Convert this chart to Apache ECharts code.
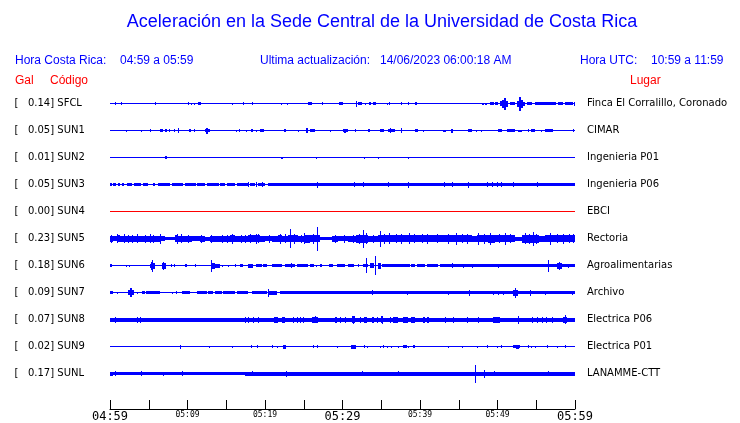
<!DOCTYPE html>
<html><head><meta charset="utf-8">
<script src="https://cdn.jsdelivr.net/npm/echarts@6/dist/echarts.min.js"></script>
<style>html,body{margin:0;padding:0;background:#fff}#c{width:740px;height:423px}</style>
</head><body><div id="c"></div>
<script>
// ---- data ----
const stations = ['SFCL','SUN1','SUN2','SUN3','SUN4','SUN5','SUN6','SUN7','SUN8','SUN9','SUNL'];
const galValues = ['0.14','0.05','0.01','0.05','0.00','0.23','0.18','0.09','0.07','0.02','0.17'];
const places = ['Finca El Corralillo, Coronado','CIMAR','Ingenieria P01','Ingenieria P06','EBCI','Rectoria','Agroalimentarias','Archivo','Electrica P06','Electrica P01','LANAMME-CTT'];
const deadStations = ['SUN4'];
const tickLabels = ['04:59','05:09','05:19','05:29','05:39','05:49','05:59'];
const majorTickLabels = ['04:59','05:29','05:59'];
// envelope segments per station: [start minute, end minute, half amplitude]
const ev_SFCL = [[0,60,0.5],[0.7,0.7,1.5],[1.4,1.4,1.5],[5.8,5.8,1.5],[10,10,1.5],[10.5,10.5,1],[10.9,10.9,1],[11.4,11.7,1.5],[15.8,15.8,1],[17.2,17.2,1.5],[18.3,18.3,1.5],[22,22,1],[22.8,22.8,1],[25.5,26.1,1.5],[27.4,27.4,1.5],[29.5,30.1,1.5],[31.8,31.8,3],[32,32.5,1.5],[32.9,32.9,1],[33.4,33.7,1.5],[33.9,34.3,1.5],[35.7,35.7,1],[36,36,1.5],[37.5,37.5,1.5],[38.4,38.6,1.5],[39.4,39.6,1.5],[48,48.3,1],[48.4,48.6,1],[49,49.5,1.5],[49.7,50.1,1.5],[50.3,50.6,2.5],[50.6,50.8,4],[50.8,51.1,6],[51.1,51.4,3],[51.6,52.3,1.5],[52.5,52.8,3],[52.8,53,7],[53,53.3,4],[53.3,53.5,2],[53.8,54.4,1.5],[54.8,55.3,1.5],[55.3,57.6,1.5],[57.8,58.5,1.5],[58.7,59.8,1.5],[59.9,59.9,2]];
const ev_SUN1 = [[0,60,0.5],[2,2,1],[4,4,1],[5.1,5.3,1.5],[6.4,6.8,1.5],[7.1,7.3,1.5],[7.65,7.65,1.5],[8.2,8.2,1.5],[8.8,8.9,2.5],[10.2,10.45,1.5],[10.9,10.9,1.5],[12.2,12.4,1.5],[12.4,12.7,3],[12.7,12.9,1.5],[16.3,16.3,1],[16.7,16.7,1.5],[17.6,17.6,1],[18.2,18.5,1.5],[18.8,18.8,1],[19.35,19.9,1.5],[22.45,22.7,1.5],[24.3,24.3,1],[25.3,25.5,2.5],[25.8,26.45,1.5],[28.4,28.4,1],[30,30.75,1.5],[30.2,30.4,2],[31.6,31.8,1.5],[33.3,33.6,1.5],[34.8,35.3,1.5],[35.9,36.8,1.5],[36.1,36.1,2.5],[37.55,37.55,2.5],[39.35,39.8,1.5],[40.4,40.4,1],[43,43.4,1],[44,44.3,2],[46.2,46.65,1.5],[47.2,47.2,1],[47.9,47.9,1],[50.1,50.6,1.5],[51.2,52.3,1.5],[52.7,53.1,1],[53.9,54.05,1.5],[54.3,54.8,1.5],[55.55,55.55,1],[56.1,57.1,1.5],[59.8,59.8,1.5]];
const ev_SUN2 = [[0,60,0.5],[7.1,7.35,1.5],[22,22.3,1],[26.6,26.75,1],[32.8,32.8,1],[34.6,34.6,1],[38.4,38.4,1]];
const ev_SUN3 = [[0,60,0.5],[0,0.3,1.5],[0.43,0.73,1.5],[1,1.3,1.5],[1.5,1.85,1.5],[2.15,2.9,1.5],[3.15,4,1.5],[4.2,4.85,1.5],[5.6,5.8,1.5],[6.15,7.75,1.5],[7.95,9.45,1.5],[9.7,11.05,1.5],[11.2,12.25,1.5],[12.5,14,1.5],[14.2,14.85,1.5],[15.05,16.1,1.5],[16.35,17.85,1.5],[18.05,18.7,1.5],[19.15,20,1.5],[20.4,60,1.5],[17.85,17.85,2.5],[18.9,18.9,2.5],[19.6,19.6,2.5],[26.65,26.65,3],[31.5,31.5,2.5],[32.7,32.7,2.5],[35.9,35.9,2.5],[38.4,38.4,3],[43.1,43.1,2.5],[44.1,44.1,2.5],[46.25,46.25,3],[48.7,48.7,2.5],[49.25,49.25,2.5],[49.9,49.9,2.5],[50.45,50.45,2.5],[52.05,52.05,2.5],[55.05,55.05,2.5]];
const ev_SUN4 = [[0,60,0.5]];
const ev_SUN5 = [[0,0.45,3],[0.1,0.1,4],[0.45,0.85,2.5],[0.85,1.3,3.5],[0.9,0.9,4.5],[1.3,1.95,3],[1.8,1.8,4.5],[1.95,2.6,3],[2.3,2.3,4],[2.6,3.2,3],[2.9,2.9,4],[3.2,3.9,3],[3.5,3.5,4.5],[3.9,5.2,3],[4.5,4.5,4],[5.1,5.1,4.5],[5.2,5.8,3],[5.5,5.5,4],[5.8,6.45,3],[6.45,6.45,5],[6.45,7.1,2.5],[7.1,8.4,1.5],[8.6,8.6,5],[8.4,8.8,3.5],[8.8,9.7,3],[9.2,9.2,4.5],[9.7,10.55,3],[10.1,10.1,4],[10.55,11.6,2.5],[11.8,11.8,4],[11.6,12.25,3],[12.25,12.9,2],[13,13,4],[12.9,13.55,3],[13.55,14.4,3],[14.4,14.4,4],[14.4,15.5,3],[15.1,15.1,4],[15.7,15.7,5],[15.5,16.1,3.5],[16.1,17.85,3],[16.9,16.9,4],[17.4,17.4,4],[18.1,18.1,4.5],[17.85,18.5,3.5],[18.8,18.8,5],[18.5,19.35,3.5],[19.1,19.1,4.5],[19.35,20,3],[20,20.85,2.5],[20.5,20.5,4],[20.85,21.7,3],[21.9,21.9,5],[21.7,22.15,3.5],[22.15,23,3],[22.6,22.6,4.5],[23.2,23.2,9.5],[23,24.2,3.5],[23.8,23.8,5],[24.2,25.2,3],[24.6,24.6,4],[25,25,5.5],[25.2,25.8,4],[25.8,26.45,3.5],[26.2,26.2,5],[26.45,27.1,3.5],[26.65,26.65,12],[27.1,28.6,1.5],[28.6,29.45,3],[29,29,4],[29.45,30.75,2.5],[30.2,30.2,4],[30.75,31.8,3],[31.3,31.3,4],[31.8,33.3,4],[32.1,32.1,5],[32.7,32.7,9],[33,33,5.5],[33.3,34.6,3],[33.9,33.9,4],[34.8,34.8,8],[34.6,36.35,3.5],[35.3,35.3,5],[36,36,5.5],[36.35,38.05,3.5],[36.9,36.9,4.5],[37.6,37.6,5],[38.05,39.8,3.5],[38.6,38.6,5.5],[39.2,39.2,4.5],[39.8,41.5,3.5],[40.9,40.9,5],[40.3,40.3,4.5],[41.5,42.8,3.5],[42.2,42.2,4.5],[42.8,44.5,3.5],[43.6,43.6,5],[44.7,44.7,6],[44.5,46.65,3.5],[45.4,45.4,4.5],[46.1,46.1,5],[46.65,47.3,3],[47.5,47.5,6],[47.3,48.8,3.5],[48.3,48.3,5],[48.8,49.65,4],[49,49,6],[49.65,50.95,3.5],[50.2,50.2,4.5],[50.95,50.95,6],[50.95,52.25,3.5],[51.6,51.6,4.5],[52.25,53.1,2],[53.1,55.3,4],[53.6,53.6,5.5],[54.1,54.1,5],[54.6,54.6,7],[55,55,5],[55.3,56.1,3],[56.1,57.2,3.5],[56.8,56.8,6],[57.2,60,3.5],[57.7,57.7,4.5],[58.5,58.5,5],[59.2,59.2,4.5],[59.8,59.8,4.5]];
const ev_SUN6 = [[0,60,0.5],[0,0.3,1.5],[2,2,1],[2.45,2.45,1],[5.15,5.3,2],[5.3,5.6,4],[5.4,5.45,6],[5.6,5.8,3],[6.75,7.2,3],[6.9,6.95,4],[7.9,7.9,1.5],[8.3,8.3,1.5],[9.7,9.9,1.5],[10.95,10.95,1.5],[13,13.2,6],[13.2,13.6,3],[13.6,14.2,2],[14.4,14.4,1],[15.2,15.2,1],[16.1,16.1,1.5],[16.8,17.2,1.5],[17.85,18.5,2],[18.9,19.55,1.5],[19.8,20.2,1.5],[20.85,22.15,1.5],[22.6,23.9,1.5],[23.35,23.35,2.5],[24.1,25.6,1.5],[25.8,26.35,1.5],[26.55,26.55,1],[27.1,27.4,1.5],[28.2,28.8,1.5],[29.25,30.3,1.5],[30.75,31.5,1.5],[32.05,32.05,1.5],[32.7,33.35,1.5],[33,33,7.5],[33.55,34,2.5],[34.2,34.2,9.5],[34.55,34.95,3],[35.05,38.7,1.5],[38.9,39.35,1.5],[39.55,40.65,1.5],[40.85,42.35,1.5],[42.6,60,1.5],[44.1,44.1,2.5],[45.6,45.6,2],[46.65,46.65,2],[50,50,2],[56.55,56.55,6],[57.65,58.3,3],[57.95,57.95,4],[59.15,59.15,2]];
const ev_SUN7 = [[0,60,0.5],[0,0.45,1.5],[0.85,0.85,1],[2.35,2.6,2.5],[2.6,2.8,4.5],[2.8,3.15,2.5],[3.45,3.45,1],[4.1,4.5,1.5],[4.7,6.45,1.5],[7.95,7.95,1],[8.5,8.5,1.5],[9.25,10.3,1.5],[11.2,12.5,1.5],[12.7,13.3,1.5],[13.55,14.4,1.5],[14.6,16.1,1.5],[16.35,17.85,1.5],[18.3,20.2,1.5],[20.35,20.35,4],[20.4,21.5,2],[21.95,25.15,1.5],[25.15,60,1.5],[33.75,33.75,2.5],[38.3,38.3,2],[43.65,43.65,2],[46.35,46.35,3],[49.45,49.45,2],[50.1,50.1,2],[50.75,50.75,2],[52,52.7,3],[52.25,52.25,5],[54.2,54.2,3],[56.1,56.1,2],[59.55,59.55,2]];
const ev_SUN8 = [[0,60,2],[0.65,0.65,3],[3.45,3.45,3],[3.9,3.9,3],[17.4,17.4,3],[17.8,17.8,3],[18.4,18.4,3],[19.1,19.1,3],[21.1,21.7,3],[22.15,22.6,3],[23.65,23.65,3],[24.1,24.1,3],[24.5,24.5,3],[24.95,24.95,3],[26,26.9,3],[26.4,26.4,3.5],[29,29.3,3],[29.7,29.7,3],[30.3,30.3,3],[31.2,31.6,3.5],[31.4,31.4,4],[32.25,32.4,3],[32.8,33.1,3],[33.75,34.1,3],[34.5,34.6,3],[35,35.25,3.5],[35.05,35.05,4],[36.1,36.2,3],[36.5,37.2,3],[37.85,38.5,3],[38.9,39.35,3],[40.45,40.6,3],[40.9,41.1,3],[43.2,43.2,3],[44.3,44.3,3],[46,46,3],[47.5,47.5,3],[49.45,50.3,3],[52.7,52.7,4],[54.4,54.4,3],[55.1,55.1,3],[55.7,55.7,3],[56.3,56.3,3],[57,57,3],[58.7,58.7,4.5],[58.5,59,3]];
const ev_SUN9 = [[0,60,0.5],[9,9,2],[12.8,12.8,1],[15.8,15.8,1],[18.15,18.15,1.5],[19,19,1.5],[20.95,20.95,1.5],[21.5,21.5,1],[22.35,22.65,2],[26.25,26.25,1.5],[26.75,26.75,1.5],[29.35,29.35,1],[31.1,31.7,2],[32.8,32.8,1.5],[33.1,33.1,1],[34.85,34.85,1],[35.2,35.2,1.5],[35.7,35.7,1],[36.2,36.2,1],[37.1,37.1,1],[37.85,38.3,1.5],[38.5,38.5,1],[39.15,39.35,1.5],[43.65,43.65,1],[45.45,45.45,1],[47.4,47.4,1],[48.6,48.6,1.5],[49.9,49.9,1],[50.4,50.4,1.5],[52.05,52.9,1.5],[52.45,52.8,2],[53.9,53.9,1.5],[54.3,54.3,1],[54.85,54.85,1],[56.35,56.35,1.5],[57.7,57.7,1],[58.7,58.9,1.5]];
const ev_SUNL = [[0,17.4,1.5],[0,0.4,2],[17.4,60,2],[0.65,0.65,2.5],[4,4,2.5],[6.9,6.9,2],[9.25,9.25,2.5],[18.3,18.3,2.5],[22.65,22.65,3],[32.55,32.55,2.5],[34.2,34.2,2],[37.1,37.1,2.5],[47.1,47.1,9],[48.3,48.3,4],[49.6,49.6,2.5],[56.55,56.55,2.5]];
const envelopes = {SFCL:ev_SFCL,SUN1:ev_SUN1,SUN2:ev_SUN2,SUN3:ev_SUN3,SUN4:ev_SUN4,SUN5:ev_SUN5,SUN6:ev_SUN6,SUN7:ev_SUN7,SUN8:ev_SUN8,SUN9:ev_SUN9,SUNL:ev_SUNL};

// ---- chart ----
const ROW = 27, GRID_TOP = 90, GRID_LEFT = 110, GRID_W = 465, GRID_H = 319;
const BLUE = '#0000ff', RED = '#ff0000';
const segData = [];
stations.forEach((s, i) => envelopes[s].forEach(e => segData.push([e[0], e[1], i, e[2]])));

const chart = echarts.init(document.getElementById('c'), null, {renderer: 'canvas'});
const graphics = [];
function txt(x, y, text, font, fill, align) {
  graphics.push({type: 'text', silent: true, style: {x, y, text, font, fill, align: align || 'left', verticalAlign: 'middle'}});
}
const SANS = '"Liberation Sans", Arial, sans-serif';
const DEJ = '"DejaVu Sans", sans-serif';
txt(382, 22, 'Aceleración en la Sede Central de la Universidad de Costa Rica', '18px ' + SANS, BLUE, 'center');
txt(15, 61, 'Hora Costa Rica:', '12px ' + SANS, BLUE);
txt(120, 61, tickLabels[0] + ' a ' + tickLabels[6], '12px ' + SANS, BLUE);
txt(260, 61, 'Ultima actualización:', '12px ' + SANS, BLUE);
txt(380, 61, '14/06/2023 06:00:18 AM', '12px ' + SANS, BLUE);
txt(580, 61, 'Hora UTC:', '12px ' + SANS, BLUE);
txt(651, 61, '10:59 a 11:59', '12px ' + SANS, BLUE);
txt(15, 81, 'Gal', '12px ' + SANS, RED);
txt(50, 81, 'Código', '12px ' + SANS, RED);
txt(630, 81, 'Lugar', '12px ' + SANS, RED);
stations.forEach((s, i) => {
  const y = GRID_TOP + ROW / 2 + ROW * i;
  txt(14.5, y, '[   ' + galValues[i] + '] ' + s, '10px ' + DEJ, '#000');
  txt(587, y, places[i], '10px ' + DEJ, '#000');
});

chart.setOption({
  animation: false,
  backgroundColor: '#fff',
  grid: {left: GRID_LEFT, top: GRID_TOP, width: GRID_W, height: GRID_H, containLabel: false},
  xAxis: {
    type: 'value', min: 0, max: 60, interval: 5, position: 'bottom',
    axisLine: {show: true, onZero: false, lineStyle: {color: '#000', width: 1}},
    axisTick: {show: true, inside: true, length: 9, lineStyle: {color: '#000', width: 1}},
    splitLine: {show: false},
    axisLabel: {
      show: true, margin: 1, showMinLabel: true, showMaxLabel: true, hideOverlap: false,
      formatter: v => {
        if (v % 10 !== 0) return '';
        const l = tickLabels[v / 10];
        return majorTickLabels.indexOf(l) >= 0 ? '{big|' + l + '}' : '{small|' + l + '}';
      },
      rich: {
        big: {fontFamily: '"DejaVu Sans Mono", monospace', fontSize: 12, color: '#000', lineHeight: 14},
        small: {fontFamily: '"DejaVu Sans Mono", monospace', fontSize: 8, color: '#000', lineHeight: 10}
      }
    }
  },
  yAxis: {type: 'value', min: 0, max: GRID_H, inverse: true, show: false},
  graphic: graphics,
  series: [{
    type: 'custom', silent: true, clip: false,
    encode: {x: [0, 1], y: 3},
    data: segData,
    renderItem: (params, api) => {
      const row = api.value(2), amp = api.value(3);
      const c = ROW / 2 + ROW * row;
      const p0 = api.coord([api.value(0), c - amp]);
      const p1 = api.coord([api.value(1), c + amp]);
      const x0 = Math.round(p0[0]);
      const w = Math.max(1, Math.round(p1[0]) - x0);
      const y0 = Math.round(p0[1]);
      const h = Math.max(1, Math.round(p1[1]) - y0);
      const col = deadStations.indexOf(stations[row]) >= 0 ? RED : BLUE;
      return {type: 'rect', shape: {x: x0, y: y0, width: w, height: h}, style: {fill: col, stroke: 'none', lineWidth: 0}};
    }
  }]
});
</script></body></html>
